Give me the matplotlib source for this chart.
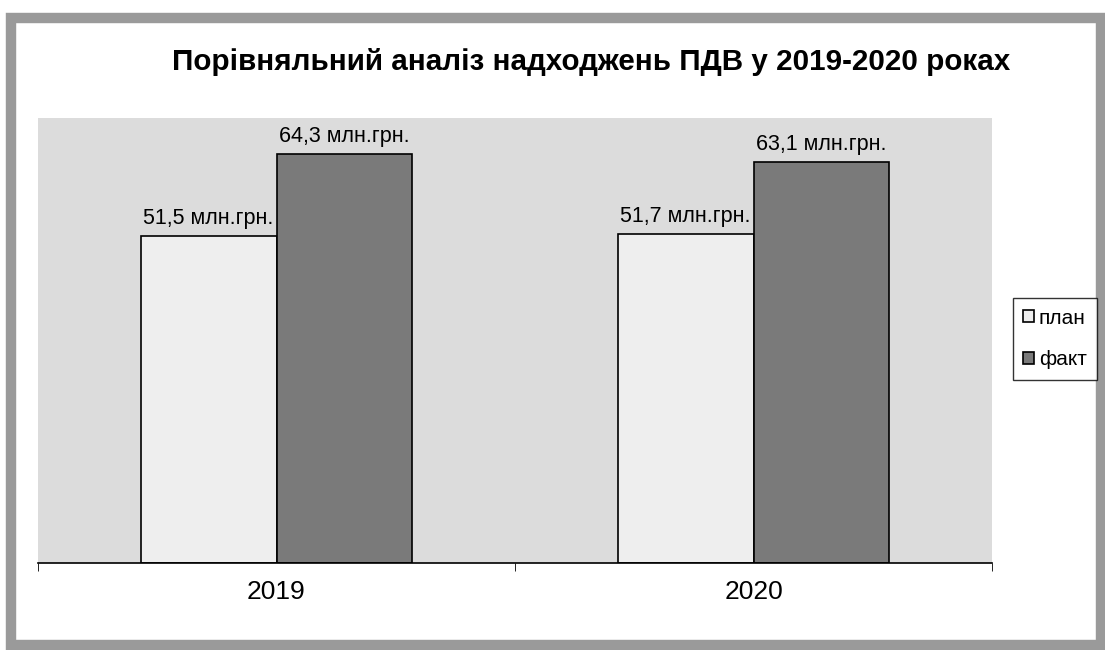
import matplotlib.pyplot as plt
import matplotlib.patches as patches
import numpy as np

years = ['2019', '2020']
plan = [51.5, 51.7]
fact = [64.3, 63.1]
series_names = ['план', 'факт']
title = 'Порівняльний аналіз надходжень ПДВ у 2019-2020 роках'

plt.rcParams['font.family'] = ['Liberation Sans', 'DejaVu Sans']

fig = plt.figure(figsize=(11.05, 6.5), dpi=100)
fig.patch.set_facecolor('white')

# gray frame round the whole chart
frame = patches.Rectangle((11 / 1105, 5 / 650), 1090 / 1105, 627 / 650,
                          transform=fig.transFigure, fill=False,
                          edgecolor='#9a9a9a', linewidth=7.5)
fig.add_artist(frame)

ax = fig.add_axes([38 / 1105, 87 / 650, 954 / 1105, 445 / 650])
ax.set_facecolor('#dcdcdc')

x = np.arange(len(years))
w = 0.285
b1 = ax.bar(x - w / 2, plan, w, color='#eeeeee', edgecolor='black', linewidth=1.2, label=series_names[0])
b2 = ax.bar(x + w / 2, fact, w, color='#7a7a7a', edgecolor='black', linewidth=1.2, label=series_names[1])

for bars, vals in [(b1, plan), (b2, fact)]:
    for bar, v in zip(bars, vals):
        ax.annotate(f'{v:.1f}'.replace('.', ',') + ' млн.грн.',
                    (bar.get_x() + bar.get_width() / 2, v),
                    xytext=(0, 5), textcoords='offset points',
                    ha='center', va='bottom', fontsize=15.5)

ax.set_xlim(-0.5, 1.5)
ax.set_ylim(0, 70)
ax.set_xticks(x)
ax.set_xticklabels(years, fontsize=19)
ax.set_yticks([])
for s in ['top', 'right', 'left']:
    ax.spines[s].set_visible(False)
ax.spines['bottom'].set_linewidth(1.2)
ax.tick_params(axis='x', length=0, pad=12)
ax.set_xticks([-0.5, 0.5, 1.5], minor=True)
ax.tick_params(axis='x', which='minor', length=6, direction='out')

fig.text(0.535, 0.905, title, ha='center', va='center', fontsize=21.3, fontweight='bold')

leg = fig.legend(handles=[b1, b2], labels=series_names, loc='center',
                 bbox_to_anchor=(1055 / 1105, 1 - 339 / 650), fontsize=15,
                 frameon=True, fancybox=False, edgecolor='black',
                 handlelength=0.5, handleheight=0.5, handletextpad=0.25,
                 labelspacing=1.1, borderpad=0.5, borderaxespad=0)
leg.get_frame().set_linewidth(1.0)

fig.savefig('out.png', dpi=100)
